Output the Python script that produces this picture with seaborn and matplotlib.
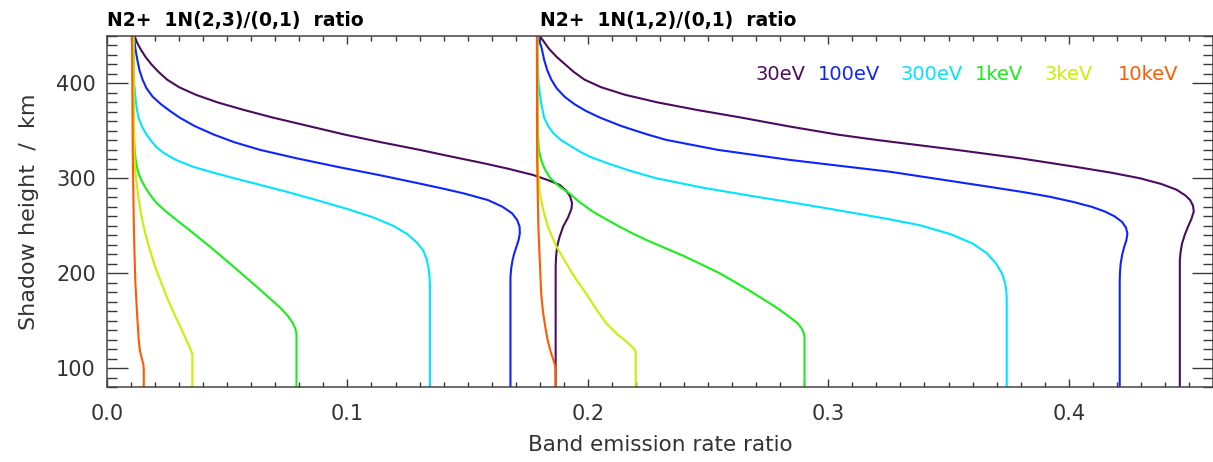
import numpy as np
import pandas as pd
import seaborn as sns
import matplotlib
matplotlib.use("Agg")
import matplotlib.pyplot as plt
from matplotlib.ticker import MultipleLocator

# ---------------- data ----------------
energies = ["30eV", "100eV", "300eV", "1keV", "3keV", "10keV"]
colors = ["#4B0C5E", "#0D24FF", "#00E4FF", "#18EE18", "#C8F000", "#FF5A00"]
titles = ["N2+  1N(2,3)/(0,1)  ratio", "N2+  1N(1,2)/(0,1)  ratio"]
title_x = [0.0, 0.18]
xlabel = "Band emission rate ratio"
ylabel = "Shadow height  /  km"

# band 1N(2,3)/(0,1)
h_23_30eV = [450, 443, 436, 428, 420, 412, 404, 396, 388, 380, 372, 364, 355, 346, 338, 330, 323, 316,
             310, 303.5, 298, 293, 287, 281, 274, 268, 259, 249, 238, 228, 218, 207, 198, 80]
r_23_30eV = [0.0115, 0.0125, 0.0140, 0.0160, 0.0185, 0.0215, 0.0250, 0.0300, 0.0370, 0.0460, 0.0570,
             0.0690, 0.0840, 0.0990, 0.1140, 0.1300, 0.1430, 0.1564, 0.1670, 0.1772, 0.1835, 0.1883,
             0.1910, 0.1926, 0.1934, 0.1932, 0.1918, 0.1897, 0.1882, 0.1872, 0.1868, 0.1866, 0.1866,
             0.1866]
h_23_100eV = [450, 437, 425, 414, 404, 395, 386, 378, 371, 364, 355, 346, 338, 330, 321, 312, 303, 295,
              289, 284, 277, 270, 263, 256, 249, 242, 235, 228, 221, 214, 205, 195, 80]
r_23_100eV = [0.0112, 0.0118, 0.0126, 0.0135, 0.0148, 0.0164, 0.0190, 0.0225, 0.0262, 0.0302, 0.0365,
              0.0445, 0.0530, 0.0636, 0.0790, 0.0960, 0.1140, 0.1290, 0.1400, 0.1485, 0.1585, 0.1645,
              0.1685, 0.1706, 0.1716, 0.1717, 0.1712, 0.1703, 0.1694, 0.1687, 0.1681, 0.1678, 0.1678]
h_23_300eV = [450, 420, 400, 386, 375, 364, 355, 347, 340, 333, 326, 319, 312, 304, 295, 286, 277, 268,
              259, 250, 241, 232, 224, 215, 206, 197, 189, 80]
r_23_300eV = [0.0110, 0.0111, 0.0113, 0.0118, 0.0123, 0.0131, 0.0145, 0.0162, 0.0182, 0.0205, 0.0240,
              0.0290, 0.0360, 0.0470, 0.0607, 0.0745, 0.0872, 0.0995, 0.1105, 0.1190, 0.1250, 0.1290,
              0.1315, 0.1329, 0.1337, 0.1341, 0.1343, 0.1343]
h_23_1keV = [450, 360, 340, 330, 320, 312, 304, 296, 288, 281, 274, 265, 256, 242, 228, 210, 192, 178,
             164, 155, 147, 141, 136, 80]
r_23_1keV = [0.0110, 0.0111, 0.0113, 0.0115, 0.0119, 0.0124, 0.0133, 0.0147, 0.0165, 0.0184, 0.0206,
             0.0245, 0.0290, 0.0360, 0.0428, 0.0512, 0.0594, 0.0657, 0.0719, 0.0752, 0.0774, 0.0784,
             0.0788, 0.0788]
h_23_3keV = [450, 330, 310, 295, 277, 259, 241, 224, 206, 189, 171, 153, 139, 125, 117, 114, 80]
r_23_3keV = [0.0110, 0.0113, 0.0117, 0.0123, 0.0132, 0.0144, 0.0160, 0.0179, 0.0201, 0.0227, 0.0255,
             0.0287, 0.0313, 0.0338, 0.0352, 0.0355, 0.0355]
h_23_10keV = [450, 330, 260, 224, 190, 153, 130, 118, 110, 104, 98, 80]
r_23_10keV = [0.0104, 0.0107, 0.0111, 0.0114, 0.0118, 0.0126, 0.0132, 0.0137, 0.0145, 0.0151, 0.0153,
              0.0153]

# band 1N(1,2)/(0,1)
h_12_30eV = [450, 443, 436, 428, 420, 412, 404, 396, 388, 380, 372, 364, 355, 346, 340.5, 330, 321, 312,
             306, 300, 294, 288, 282, 277, 271, 265, 257, 249, 240, 231, 222, 213, 80]
r_12_30eV = [0.1800, 0.1820, 0.1840, 0.1870, 0.1906, 0.1942, 0.1986, 0.2055, 0.2155, 0.2290, 0.2455,
             0.2638, 0.2830, 0.3040, 0.3199, 0.3532, 0.3800, 0.4030, 0.4175, 0.4297, 0.4385, 0.4448,
             0.4485, 0.4505, 0.4517, 0.4520, 0.4510, 0.4496, 0.4482, 0.4471, 0.4465, 0.4462, 0.4462]
h_12_100eV = [450, 437, 425, 414, 404, 395, 386, 378, 371, 364, 355, 346, 340.5, 330, 319.4, 307, 291,
              285.5, 280.6, 275, 270, 265, 260, 254, 248, 242, 235, 228, 219, 210, 200, 192, 80]
r_12_100eV = [0.1792, 0.1808, 0.1818, 0.1831, 0.1848, 0.1870, 0.1903, 0.1945, 0.1992, 0.2050, 0.2140,
              0.2250, 0.2326, 0.2540, 0.2839, 0.3254, 0.3670, 0.3810, 0.3920, 0.4020, 0.4095, 0.4150,
              0.4190, 0.4222, 0.4238, 0.4244, 0.4240, 0.4231, 0.4222, 0.4216, 0.4213, 0.4212, 0.4212]
h_12_300eV = [450, 420, 400, 380, 364, 355, 347, 340, 333, 327, 322.9, 316, 308, 300, 290, 280.6, 272,
              263, 257, 250.6, 241, 231.2, 221, 210, 200, 190, 181.8, 174, 80]
r_12_300eV = [0.1790, 0.1792, 0.1795, 0.1805, 0.1818, 0.1835, 0.1858, 0.1890, 0.1935, 0.1975, 0.2007,
              0.2080, 0.2175, 0.2285, 0.2480, 0.2700, 0.2910, 0.3116, 0.3250, 0.3380, 0.3510, 0.3600,
              0.3660, 0.3698, 0.3722, 0.3735, 0.3740, 0.3742, 0.3742]
h_12_1keV = [450, 350, 330, 319, 310, 301, 292, 284, 275, 265, 257, 249, 242, 235, 218, 200, 182, 164,
             155, 147, 141, 136, 132, 80]
r_12_1keV = [0.1790, 0.1792, 0.1796, 0.1806, 0.1820, 0.1841, 0.1878, 0.1924, 0.1965, 0.2020, 0.2075,
             0.2132, 0.2185, 0.2243, 0.2400, 0.2548, 0.2670, 0.2783, 0.2833, 0.2873, 0.2891, 0.2899,
             0.2901, 0.2901]
h_12_3keV = [450, 330, 300, 284, 266, 249, 230, 213, 195, 178, 160, 147, 135, 129, 121, 117, 80]
r_12_3keV = [0.1790, 0.1791, 0.1795, 0.1800, 0.1815, 0.1834, 0.1865, 0.1904, 0.1947, 0.1994, 0.2040,
             0.2077, 0.2125, 0.2155, 0.2190, 0.2199, 0.2199]
h_12_10keV = [450, 319, 249, 178, 160, 143, 128, 115, 106, 100, 80]
r_12_10keV = [0.1788, 0.1789, 0.1794, 0.1806, 0.1813, 0.1823, 0.1834, 0.1848, 0.1860, 0.1866, 0.1867]

curves = [
    ("2,3", "30eV", h_23_30eV, r_23_30eV), ("2,3", "100eV", h_23_100eV, r_23_100eV),
    ("2,3", "300eV", h_23_300eV, r_23_300eV), ("2,3", "1keV", h_23_1keV, r_23_1keV),
    ("2,3", "3keV", h_23_3keV, r_23_3keV), ("2,3", "10keV", h_23_10keV, r_23_10keV),
    ("1,2", "30eV", h_12_30eV, r_12_30eV), ("1,2", "100eV", h_12_100eV, r_12_100eV),
    ("1,2", "300eV", h_12_300eV, r_12_300eV), ("1,2", "1keV", h_12_1keV, r_12_1keV),
    ("1,2", "3keV", h_12_3keV, r_12_3keV), ("1,2", "10keV", h_12_10keV, r_12_10keV),
]

rows = []
for band, en, hs, rs in curves:
    for i, (h, r) in enumerate(zip(hs, rs)):
        rows.append({"band": band, "energy": en, "unit": band + en, "order": i,
                     "height": h, "ratio": r})
df = pd.DataFrame(rows)

# ---------------- style ----------------
sns.set_style("ticks")
plt.rcParams["font.family"] = ["DejaVu Sans"]
plt.rcParams["axes.linewidth"] = 1.1

fig = plt.figure(figsize=(12.13, 4.62), dpi=100)
ax = fig.add_axes([107 / 1213, 1 - 387 / 462, 1106 / 1213, 351 / 462])

palette = dict(zip(energies, colors))
for unit, sub in df.groupby("unit", sort=False):
    sns.lineplot(data=sub, x="ratio", y="height", hue="energy", palette=palette,
                 estimator=None, sort=False, legend=False, linewidth=1.5, ax=ax)

ax.set_xlim(0, 0.46)
ax.set_ylim(80, 450)
ax.xaxis.set_major_locator(MultipleLocator(0.1))
ax.xaxis.set_minor_locator(MultipleLocator(0.01))
ax.yaxis.set_major_locator(MultipleLocator(100))
ax.yaxis.set_minor_locator(MultipleLocator(10))
ax.xaxis.set_major_formatter(plt.FuncFormatter(lambda v, p: f"{v:.1f}"))

tick_col = "#3a3a3a"
ax.tick_params(which="both", direction="in", top=True, right=True, colors=tick_col,
               labelcolor="#333333", labelsize=15, width=1.0)
ax.tick_params(axis="y", which="major", length=15, pad=8)
ax.tick_params(axis="y", which="minor", length=7.5)
ax.tick_params(axis="x", which="major", length=5.5, pad=12)
ax.tick_params(axis="x", which="minor", length=3.5)
for s in ax.spines.values():
    s.set_color("#444444")

ax.set_xlabel(xlabel, fontsize=15.5, color="#333333", labelpad=8)
ax.set_ylabel(ylabel, fontsize=16, color="#333333", labelpad=12)

trans = matplotlib.transforms.blended_transform_factory(ax.transData, ax.transAxes)
for t, tx in zip(titles, title_x):
    ax.text(tx, 1.043, t, transform=trans, ha="left", va="center", fontsize=13.5,
            fontweight="bold", color="black")

leg_x = [0.586, 0.643, 0.717, 0.785, 0.848, 0.914]
for en, c, lx in zip(energies, colors, leg_x):
    ax.text(lx, 0.889, en, transform=ax.transAxes, ha="left", va="center", fontsize=14, color=c)

fig.savefig("out.png", dpi=100)
